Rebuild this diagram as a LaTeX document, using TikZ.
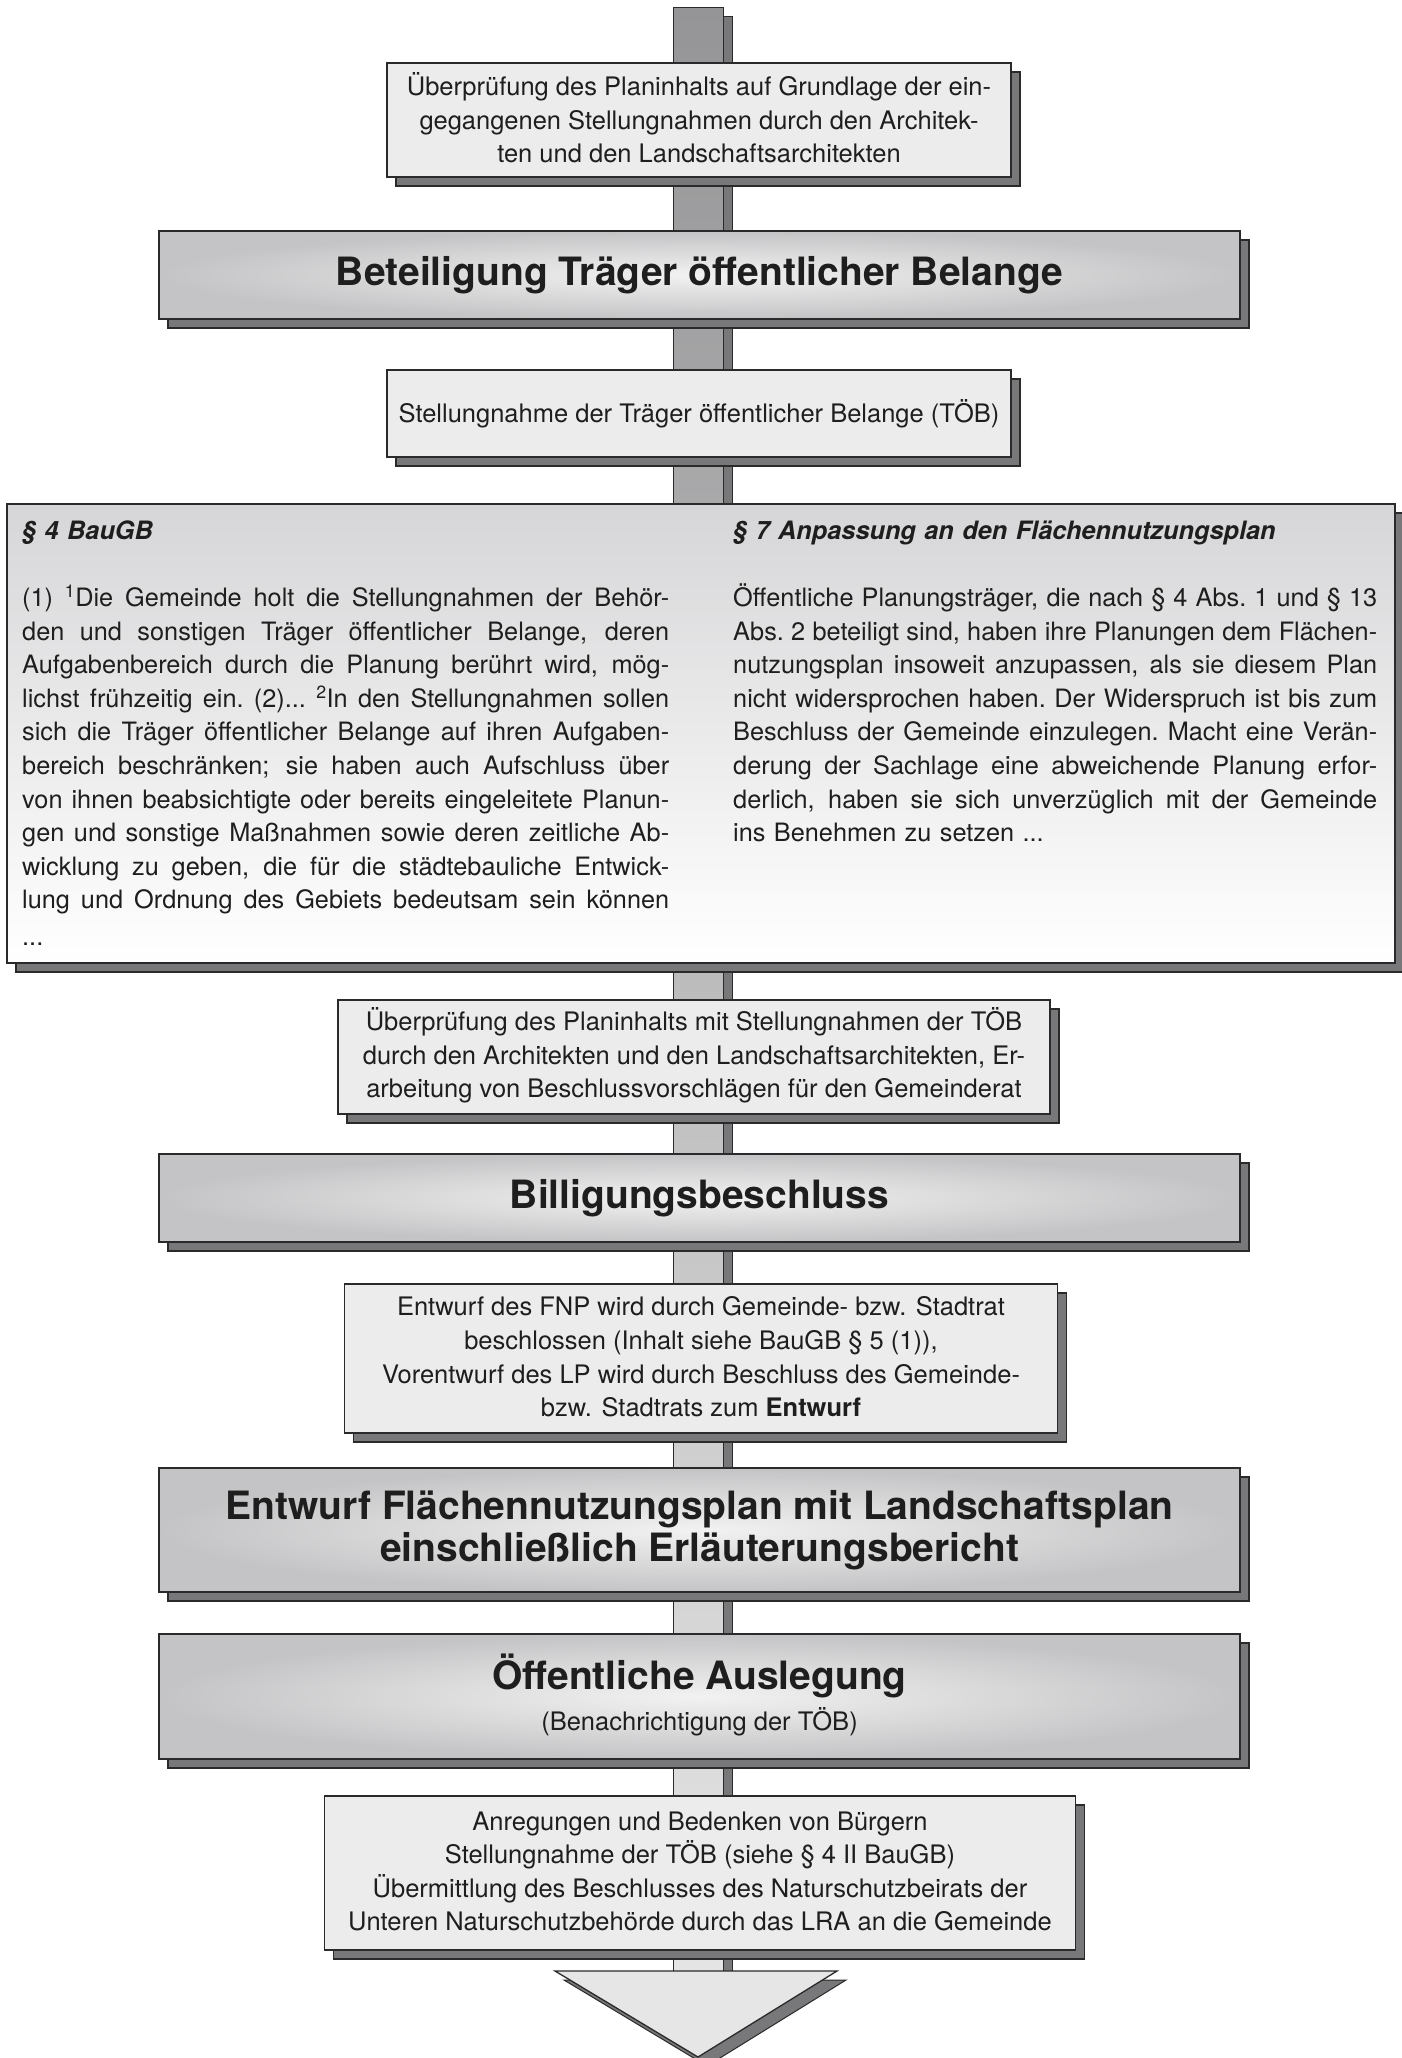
\documentclass[tikz,border=0pt]{standalone}
\usepackage{fontspec}
\setmainfont{TeX Gyre Heros}
\usetikzlibrary{shadows}
\definecolor{txt}{HTML}{1E1E1E}
\definecolor{edge}{HTML}{2A2A2A}
\definecolor{shadowc}{HTML}{78787A}
\definecolor{boxfill}{HTML}{ECECEC}
\definecolor{headin}{HTML}{F2F2F2}
\definecolor{headout}{HTML}{C4C4C6}
\definecolor{shafttop}{HTML}{959597}
\definecolor{shaftbot}{HTML}{E4E4E4}
\definecolor{lawtop}{HTML}{D6D6D8}
\definecolor{arrowfill}{HTML}{E6E6E6}
\newcommand\myBody{\fontsize{25.5}{33.6}\selectfont}
\newcommand\myLaw{\fontsize{25.3}{33.6}\selectfont}
\newcommand\myHead{\bfseries\fontsize{39}{42}\selectfont}
\newcommand\jlineL[1]{{\spaceskip=0.278em plus 1fil minus 0.1em\xspaceskip=\spaceskip\makebox[647pt][s]{#1}}}
\newcommand\jlineR[1]{{\spaceskip=0.278em plus 1fil minus 0.1em\xspaceskip=\spaceskip\makebox[644pt][s]{#1}}}
\begin{document}
\begin{tikzpicture}[x=1pt,y=1pt,
  boxline/.style={draw=edge, line width=1.3pt},
  shad/.style={drop shadow={shadow xshift=9pt, shadow yshift=-9pt, fill=shadowc, draw=edge, line width=1.3pt, opacity=1}},
  smallbox/.style={boxline, shad, fill=boxfill, inner sep=0pt, align=center, text=txt, font=\myBody},
  headbox/.style={boxline, shad, inner color=headin, outer color=headout, inner sep=0pt, align=center, text=txt, font=\myHead},
  lawbox/.style={boxline, shad, top color=lawtop, bottom color=white, inner sep=0pt},
  lawcol/.style={anchor=north west, inner sep=0pt, align=left, text=txt, font=\myLaw},
  plain/.style={inner sep=0pt, text=txt}
]
\useasboundingbox (0,0) rectangle (1402,-2058);
% shaft
\coordinate (sTop) at (673,-8);
\coordinate (sBot) at (723,-1971);
\coordinate (shTop) at (723,-17);
\coordinate (shBot) at (732,-1971);
\path[fill=shadowc, draw=edge, line width=1pt] (shTop) rectangle (shBot);
\path[draw=edge, line width=1pt, top color=shafttop, bottom color=shaftbot] (sTop) rectangle (sBot);

% boxes
\node[smallbox, minimum width=624pt, minimum height=114pt] (b1) at (699,-120)
  {Überprüfung des Planinhalts auf Grundlage der ein-\\gegangenen Stellungnahmen durch den Architek-\\ten und den Landschaftsarchitekten\vspace{4pt}};
\node[headbox, minimum width=1081pt, minimum height=88pt] (b2) at (699.5,-275)
  {Beteiligung Träger öffentlicher Belange};
\node[smallbox, minimum width=624pt, minimum height=87pt] (b3) at (699,-413.5)
  {Stellungnahme der Träger öffentlicher Belange (TÖB)};

\node[lawbox, minimum width=1388pt, minimum height=459pt] (law) at (701,-733.5) {};
\node[lawcol, text width=647pt] (lawL) at (22,-515.5) {%
\strut\textit{\textbf{§ 4 BauGB}}\\[33.6pt]
\jlineL{(1) \textsuperscript{1}Die Gemeinde holt die Stellungnahmen der Behör-}\\
\jlineL{den und sonstigen Träger öffentlicher Belange, deren}\\
\jlineL{Aufgabenbereich durch die Planung berührt wird, mög-}\\
\jlineL{lichst frühzeitig ein. (2)... \textsuperscript{2}In den Stellungnahmen sollen}\\
\jlineL{sich die Träger öffentlicher Belange auf ihren Aufgaben-}\\
\jlineL{bereich beschränken; sie haben auch Aufschluss über}\\
\jlineL{von ihnen beabsichtigte oder bereits eingeleitete Planun-}\\
\jlineL{gen und sonstige Maßnahmen sowie deren zeitliche Ab-}\\
\jlineL{wicklung zu geben, die für die städtebauliche Entwick-}\\
\jlineL{lung und Ordnung des Gebiets bedeutsam sein können}\\[3pt]
...};
\node[lawcol, text width=644pt] (lawR) at (733,-515.5) {%
\strut\textit{\textbf{§ 7 Anpassung an den Flächennutzungsplan}}\\[33.6pt]
\jlineR{Öffentliche Planungsträger, die nach § 4 Abs. 1 und § 13}\\
\jlineR{Abs. 2 beteiligt sind, haben ihre Planungen dem Flächen-}\\
\jlineR{nutzungsplan insoweit anzupassen, als sie diesem Plan}\\
\jlineR{nicht widersprochen haben. Der Widerspruch ist bis zum}\\
\jlineR{Beschluss der Gemeinde einzulegen. Macht eine Verän-}\\
\jlineR{derung der Sachlage eine abweichende Planung erfor-}\\
\jlineR{derlich, haben sie sich unverzüglich mit der Gemeinde}\\
ins Benehmen zu setzen ...};

\node[smallbox, minimum width=712pt, minimum height=114pt] (b5) at (694,-1057)
  {Überprüfung des Planinhalts mit Stellungnahmen der TÖB\\durch den Architekten und den Landschaftsarchitekten, Er-\\arbeitung von Beschlussvorschlägen für den Gemeinderat\vspace{3pt}};
\node[headbox, minimum width=1081pt, minimum height=88pt] (b6) at (699.5,-1198)
  {Billigungsbeschluss};
\node[smallbox, minimum width=713pt, minimum height=149pt] (b7) at (701,-1358.5)
  {Entwurf des FNP wird durch Gemeinde- bzw. Stadtrat\\beschlossen (Inhalt siehe BauGB § 5 (1)),\\Vorentwurf des LP wird durch Beschluss des Gemeinde-\\bzw. Stadtrats zum \textbf{Entwurf}\vspace{3pt}};
\node[headbox, minimum width=1081pt, minimum height=124pt] (b8) at (699.5,-1530)
  {Entwurf Flächennutzungsplan mit Landschaftsplan\\einschließlich Erläuterungsbericht};
\node[headbox, minimum width=1081pt, minimum height=125pt] (b9) at (699.5,-1696.5) {};
\node[plain, font=\myHead, anchor=base] (b9t) at (699.5,-1689) {Öffentliche Auslegung};
\node[plain, font=\myBody, anchor=base] (b9s) at (699.5,-1730) {(Benachrichtigung der TÖB)};
\node[smallbox, minimum width=751pt, minimum height=154pt] (b10) at (700,-1873)
  {Anregungen und Bedenken von Bürgern\\Stellungnahme der TÖB (siehe § 4 II BauGB)\\Übermittlung des Beschlusses des Naturschutzbeirats der\\Unteren Naturschutzbehörde durch das LRA an die Gemeinde\vspace{3pt}};

% arrow head
\coordinate (aL) at (555,-1971);
\coordinate (aR) at (837,-1971);
\coordinate (aT) at (698,-2057);
\path[fill=shadowc, draw=edge, line width=1pt] ([shift={(9,-9)}]aL) -- ([shift={(9,-9)}]aR) -- ([shift={(9,-9)}]aT) -- cycle;
\path[fill=arrowfill, draw=edge, line width=1.3pt] (aL) -- (aR) -- (aT) -- cycle;
\end{tikzpicture}
\end{document}
